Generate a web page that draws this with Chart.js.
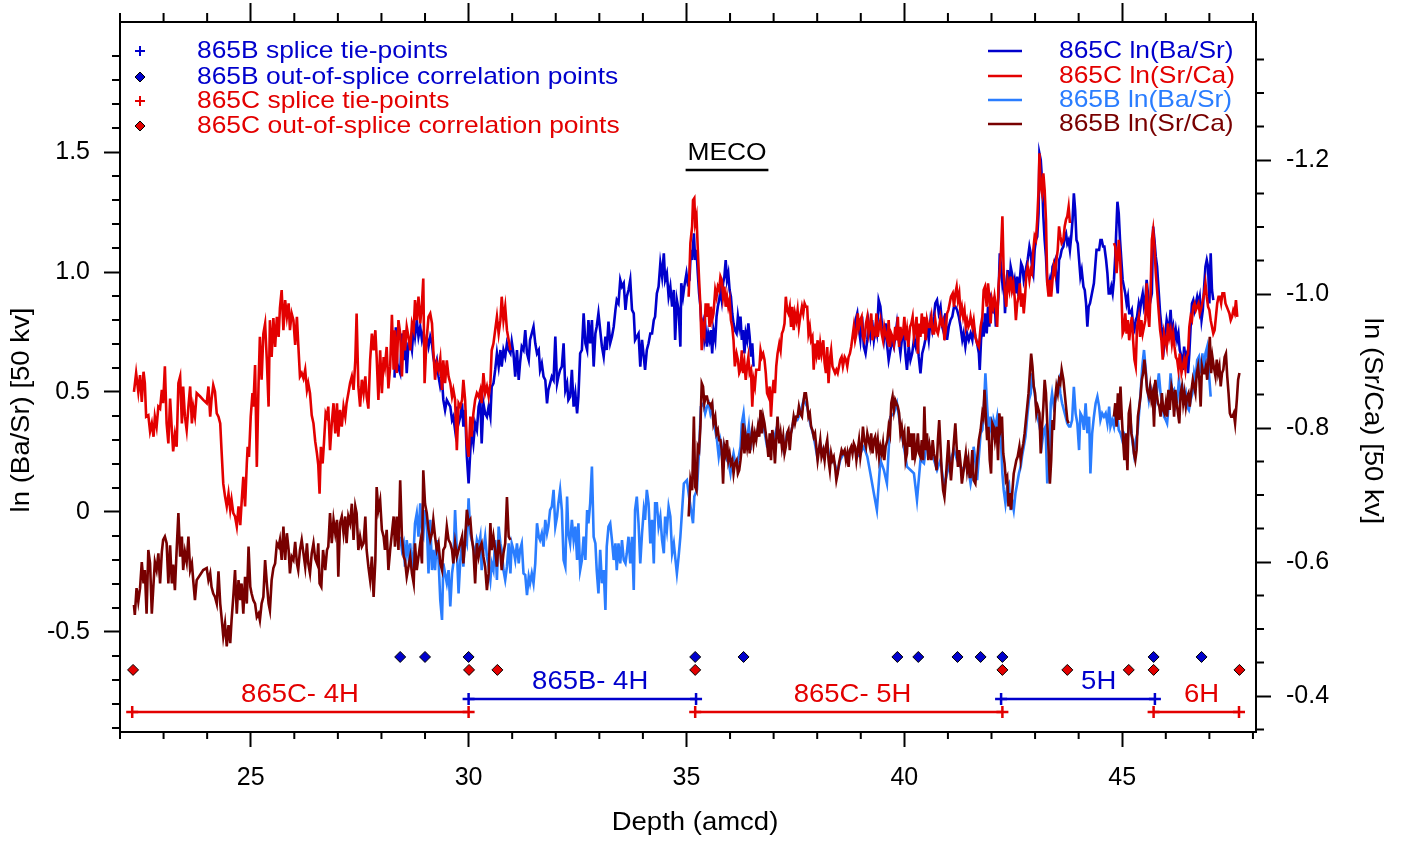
<!DOCTYPE html>
<html>
<head>
<meta charset="utf-8">
<script src="https://cdn.jsdelivr.net/npm/chart.js@4.4.1/dist/chart.umd.min.js"></script>
<style>
  body { margin: 0; background: #fff; }
  #wrap { width: 1407px; height: 845px; }
</style>
</head>
<body>
<div id="wrap"><canvas id="myChart" width="1407" height="845"></canvas></div>
<script>
const depthTicks = [25, 30, 35, 40, 45]
const baSrTicks = [-0.5, 0, 0.5, 1.0, 1.5]
const srCaTicks = [-1.2, -1.0, -0.8, -0.6, -0.4]

const seriesLabels = ['865C ln(Ba/Sr)', '865C ln(Sr/Ca)', '865B ln(Ba/Sr)', '865B ln(Sr/Ca)']
const markerLabels = ['865B splice tie-points', '865B out-of-splice correlation points', '865C splice tie-points', '865C out-of-splice correlation points']
const axisTitles = ['Depth (amcd)', 'ln (Ba/Sr) [50 kv]', 'ln (Sr/Ca) [50 kv]']

// [depth (amcd), value] -- null marks a gap in the record
const srCa865C = [
[22.32,-0.854],[22.37,-0.882],[22.42,-0.854],[22.46,-0.879],[22.50,-0.839],[22.54,-0.884],[22.57,-0.867],[22.60,-0.817],[22.65,-0.819],[22.69,-0.795],[22.73,-0.807],[22.77,-0.787],[22.80,-0.817],[22.84,-0.802],[22.88,-0.832],[22.92,-0.829],[22.96,-0.857],[22.99,-0.837],[23.03,-0.892],[23.07,-0.807],[23.11,-0.777],[23.15,-0.844],[23.19,-0.797],[23.22,-0.765],[23.26,-0.790],[23.30,-0.772],[23.34,-0.867],[23.38,-0.877],[23.42,-0.807],[23.45,-0.862],[23.49,-0.817],[23.53,-0.797],[23.57,-0.832],[23.61,-0.862],[23.65,-0.807],[23.68,-0.832],[23.72,-0.817],[23.76,-0.852],[23.84,-0.847],[23.91,-0.842],[23.99,-0.837],[24.03,-0.862],[24.07,-0.817],[24.10,-0.842],[24.14,-0.864],[24.18,-0.854],[24.22,-0.822],[24.26,-0.817],[24.30,-0.807],[24.33,-0.767],[24.37,-0.717],[24.41,-0.698],[24.45,-0.683],[24.49,-0.702],[24.53,-0.678],[24.56,-0.693],[24.60,-0.673],[24.64,-0.668],[24.68,-0.653],[24.72,-0.683],[24.76,-0.655],[24.79,-0.688],[24.83,-0.727],[24.87,-0.683],[24.91,-0.747],[24.93,-0.772],[24.96,-0.757],[25.00,-0.817],[25.04,-0.852],[25.06,-0.832],[25.10,-0.894],[25.14,-0.742],[25.18,-0.867],[25.21,-0.936],[25.25,-0.872],[25.29,-0.941],[25.33,-0.956],[25.37,-0.901],[25.41,-0.832],[25.44,-0.961],[25.48,-0.906],[25.52,-0.964],[25.56,-0.921],[25.60,-0.966],[25.64,-0.936],[25.67,-0.979],[25.71,-1.006],[25.75,-0.946],[25.79,-0.991],[25.83,-0.966],[25.87,-0.986],[25.90,-0.946],[25.94,-0.971],[25.98,-0.961],[26.02,-0.924],[26.06,-0.966],[26.09,-0.926],[26.13,-0.877],[26.17,-0.882],[26.21,-0.874],[26.25,-0.887],[26.29,-0.857],[26.32,-0.867],[26.36,-0.852],[26.40,-0.819],[26.44,-0.807],[26.48,-0.780],[26.52,-0.762],[26.55,-0.745],[26.58,-0.702],[26.61,-0.772],[26.65,-0.747],[26.68,-0.777],[26.72,-0.822],[26.75,-0.817],[26.78,-0.832],[26.82,-0.767],[26.86,-0.807],[26.90,-0.837],[26.94,-0.792],[26.98,-0.837],[27.01,-0.787],[27.05,-0.827],[27.09,-0.802],[27.13,-0.832],[27.17,-0.817],[27.20,-0.837],[27.24,-0.852],[27.28,-0.867],[27.32,-0.877],[27.36,-0.857],[27.40,-0.901],[27.43,-0.971],[27.47,-0.862],[27.51,-0.832],[27.55,-0.872],[27.59,-0.852],[27.63,-0.877],[27.66,-0.847],[27.70,-0.829],[27.74,-0.901],[27.78,-0.941],[27.82,-0.916],[27.86,-0.946],[27.89,-0.906],[27.93,-0.842],[27.97,-0.916],[28.01,-0.852],[28.05,-0.906],[28.08,-0.892],[28.12,-0.921],[28.16,-0.859],[28.20,-0.892],[28.24,-0.969],[28.28,-0.887],[28.31,-0.946],[28.35,-0.882],[28.39,-0.961],
[28.43,-0.941],[28.47,-0.877],[28.51,-0.946],[28.54,-0.916],[28.58,-0.951],[28.62,-0.936],[28.66,-0.916],[28.70,-0.956],[28.74,-0.946],[28.77,-0.991],[28.81,-0.961],[28.85,-0.996],[28.89,-0.956],[28.93,-0.986],[28.96,-1.023],[28.99,-0.867],[29.03,-0.926],[29.08,-0.966],[29.12,-0.971],[29.16,-0.956],[29.19,-0.916],[29.23,-0.872],[29.27,-0.897],[29.31,-0.887],[29.35,-0.904],[29.39,-0.857],[29.42,-0.901],[29.46,-0.867],[29.50,-0.901],[29.54,-0.877],[29.58,-0.867],[29.62,-0.847],[29.65,-0.857],[29.69,-0.842],[29.73,-0.767],[29.77,-0.837],[29.81,-0.832],[29.85,-0.842],[29.88,-0.872],[29.92,-0.842],[29.96,-0.777],[30.00,-0.757],[30.04,-0.817],[30.07,-0.787],[30.11,-0.822],[30.15,-0.842],[30.19,-0.852],[30.23,-0.847],[30.27,-0.857],[30.30,-0.837],[30.34,-0.882],[30.38,-0.852],[30.42,-0.862],[30.46,-0.847],[30.50,-0.867],[30.53,-0.916],[30.57,-0.926],[30.61,-0.946],[30.65,-0.966],[30.69,-0.941],[30.73,-0.961],[30.76,-0.996],[30.80,-0.961],[30.84,-0.981],[30.88,-0.946],[30.92,-0.931],[30.96,-0.916],[33.00,null],
[35.05,-0.996],[35.09,-1.076],[35.13,-1.101],[35.15,-1.140],[35.18,-1.143],[35.20,-1.106],[35.23,-1.116],[35.26,-1.066],[35.29,-1.021],[35.32,-0.981],[35.35,-0.916],[35.38,-0.951],[35.41,-0.941],[35.44,-0.986],[35.47,-0.966],[35.50,-0.986],[35.53,-0.951],[35.56,-0.981],[35.59,-0.961],[35.62,-0.971],[35.66,-1.006],[35.69,-0.996],[35.72,-1.011],[35.75,-1.006],[35.78,-1.026],[35.81,-1.021],[35.84,-0.996],[35.87,-1.011],[35.90,-0.981],[35.93,-0.996],[35.96,-0.981],[35.99,-0.991],[36.02,-0.961],[36.05,-0.951],[36.08,-0.931],[36.11,-0.892],[36.15,-0.911],[36.18,-0.902],[36.21,-0.882],[36.24,-0.887],[36.27,-0.916],[36.30,-0.882],[36.33,-0.897],[36.36,-0.872],[36.39,-0.892],[36.42,-0.906],[36.45,-0.882],[36.48,-0.887],[36.51,-0.832],[36.54,-0.872],[36.57,-0.862],[36.60,-0.887],[36.64,-0.887],[36.67,-0.887],[36.70,-0.916],[36.73,-0.906],[36.76,-0.911],[36.79,-0.902],[36.82,-0.882],[36.85,-0.852],[36.88,-0.847],[36.91,-0.862],[36.94,-0.817],[36.97,-0.852],[37.00,-0.872],[37.03,-0.852],[37.06,-0.892],[37.09,-0.911],[37.13,-0.926],[37.16,-0.916],[37.19,-0.941],[37.22,-0.946],[37.25,-0.956],[37.28,-0.996],[37.31,-0.976],[37.34,-0.971],[37.37,-0.981],[37.40,-0.951],[37.43,-0.981],[37.46,-0.946],[37.49,-0.971],[37.52,-0.961],[37.55,-0.976],[37.58,-0.951],[37.61,-0.966],[37.65,-0.981],[37.68,-0.971],[37.71,-0.986],[37.74,-0.981],[37.77,-0.981],[37.80,-0.941],[37.83,-0.951],[37.86,-0.931],[37.89,-0.936],[37.92,-0.887],[37.95,-0.926],[37.98,-0.911],[38.01,-0.931],[38.04,-0.902],[38.07,-0.926],[38.10,-0.911],[38.14,-0.931],[38.17,-0.897],[38.20,-0.882],[38.23,-0.921],[38.26,-0.867],[38.29,-0.902],[38.32,-0.916],[38.35,-0.892],[38.38,-0.887],[38.41,-0.882],[38.44,-0.887],[38.47,-0.882],[38.50,-0.892],[38.53,-0.902],[38.56,-0.906],[38.59,-0.892],[38.63,-0.906],[38.66,-0.902],[38.69,-0.892],[38.72,-0.906],[38.75,-0.911],[38.78,-0.921],[38.81,-0.936],[38.84,-0.951],[38.87,-0.931],[38.90,-0.941],[38.93,-0.971],[38.96,-0.951],[38.99,-0.961],[39.02,-0.966],[39.05,-0.936],[39.08,-0.931],[39.12,-0.956],[39.15,-0.966],[39.18,-0.941],[39.21,-0.951],[39.24,-0.971],[39.27,-0.931],[39.30,-0.946],[39.33,-0.941],[39.36,-0.971],[39.39,-0.936],[39.42,-0.951],[39.45,-0.961],[39.48,-0.941],[39.51,-0.931],[39.54,-0.951],[39.57,-0.941],[39.61,-0.931],[39.64,-0.961],[39.67,-0.921],[39.70,-0.941],[39.73,-0.936],[39.76,-0.926],[39.79,-0.951],[39.82,-0.931],[39.85,-0.966],[39.88,-0.921],[39.91,-0.951],[39.94,-0.936],[39.97,-0.941],[40.00,-0.966],[40.03,-0.931],[40.06,-0.946],[40.09,-0.921],[40.13,-0.951],[40.16,-0.956],[40.19,-0.966],[40.22,-0.936],[40.25,-0.946],[40.28,-0.966],[40.31,-0.911],[40.34,-0.956],[40.37,-0.936],[40.40,-0.971],[40.43,-0.941],[40.46,-0.966],[40.49,-0.931],[40.52,-0.961],[40.55,-0.951],[40.58,-0.951],[40.62,-0.966],[40.65,-0.941],[40.68,-0.941],[40.71,-0.961],[40.74,-0.946],[40.77,-0.941],[40.80,-0.951],[40.83,-0.966],[40.86,-0.956],[40.89,-0.961],[40.92,-0.931],[40.95,-0.946],[40.98,-0.971],[41.01,-0.976],[41.04,-0.986],[41.07,-0.996],[41.11,-1.001],[41.14,-0.981],[41.17,-1.001],[41.20,-1.011],[41.23,-0.991],[41.26,-1.001],[41.29,-0.971],[41.32,-0.981],[41.35,-0.966],[41.38,-0.976],[41.41,-0.951],[41.44,-0.961],[41.47,-0.951],[41.50,-0.956],
[41.52,-0.966],[41.56,-0.951],[41.59,-0.961],[41.63,-0.936],[41.67,-0.926],[41.71,-0.921],[41.75,-0.951],[41.79,-0.966],[41.82,-1.006],[41.85,-1.011],[41.89,-0.981],[41.92,-1.016],[41.95,-0.996],[41.98,-0.956],[42.01,-0.991],[42.04,-0.981],[42.07,-0.996],[42.10,-0.981],[42.13,-0.951],[42.16,-1.011],[42.19,-1.036],[42.22,-1.066],[42.25,-1.116],[42.28,-1.031],[42.31,-1.001],[42.34,-0.981],[42.37,-1.021],[42.41,-1.006],[42.44,-1.026],[42.47,-1.006],[42.50,-1.016],[42.53,-0.996],[42.56,-0.961],[42.59,-0.986],[42.62,-0.996],[42.65,-1.016],[42.68,-0.981],[42.71,-1.001],[42.74,-0.971],[42.77,-0.996],[42.80,-1.031],[42.83,-1.041],[42.87,-1.021],[42.90,-1.036],[42.93,-1.031],[42.96,-1.066],[42.99,-1.086],[43.02,-1.081],[43.05,-1.111],[43.08,-1.155],[43.10,-1.210],[43.13,-1.160],[43.16,-1.150],[43.19,-1.180],[43.22,-1.155],[43.25,-1.111],[43.28,-1.016],[43.31,-0.996],[43.34,-1.021],[43.37,-0.996],[43.40,-1.021],[43.43,-1.041],[43.46,-1.031],[43.49,-1.051],[43.52,-1.066],[43.55,-1.101],[43.58,-1.086],[43.61,-1.076],[43.65,-1.081],[43.68,-1.101],[43.71,-1.111],[43.74,-1.116],[43.77,-1.130],[43.80,-1.106],[44.30,null],
[44.81,-1.076],[44.84,-1.071],[44.87,-1.031],[44.90,-1.056],[44.92,-1.081],[44.95,-1.056],[44.98,-1.006],[45.01,-0.941],[45.04,-0.946],[45.07,-0.971],[45.10,-0.941],[45.13,-0.961],[45.16,-0.931],[45.19,-0.951],[45.22,-0.966],[45.25,-0.931],[45.28,-0.902],[45.31,-0.892],[45.34,-0.951],[45.38,-0.966],[45.41,-0.936],[45.44,-0.961],[45.47,-0.941],[45.50,-0.951],[45.53,-0.961],[45.56,-1.016],[45.59,-0.971],[45.62,-0.951],[45.65,-1.001],[45.68,-1.081],[45.71,-1.096],[45.74,-1.071],[45.77,-1.031],[45.80,-1.006],[45.84,-0.971],[45.87,-0.946],[45.90,-0.931],[45.93,-0.902],[45.96,-0.941],[45.99,-0.931],[46.02,-0.921],[46.05,-0.956],[46.08,-0.936],[46.11,-0.946],[46.14,-0.926],[46.17,-0.941],[46.20,-0.921],[46.23,-0.906],[46.26,-0.902],[46.29,-0.887],[46.32,-0.911],[46.36,-0.882],[46.39,-0.892],[46.42,-0.902],[46.45,-0.887],[46.48,-0.906],[46.51,-0.911],[46.54,-0.951],[46.57,-0.966],[46.60,-0.961],[46.63,-0.981],[46.66,-0.986],[46.69,-0.976],[46.72,-0.981],[46.75,-0.986],[46.78,-0.971],[46.82,-0.981],[46.85,-0.991],[46.88,-1.001],[46.91,-1.016],[46.94,-0.996],[46.97,-0.981],[47.00,-0.976],[47.03,-0.961],[47.06,-0.951],[47.09,-0.941],[47.12,-0.946],[47.15,-0.966],[47.18,-0.986],[47.21,-0.996],[47.24,-0.996],[47.27,-0.986],[47.30,-1.001],[47.34,-1.001],[47.37,-0.986],[47.40,-0.981],[47.43,-0.976],[47.46,-0.971],[47.49,-0.961],[47.52,-0.966],[47.55,-0.976],[47.58,-0.971],[47.61,-0.991],[47.64,-0.966]
]

const baSr865C = [
[28.30,0.56],[28.33,0.77],[28.36,0.62],[28.39,0.60],
[28.43,0.578],[28.47,0.744],[28.51,0.633],[28.54,0.758],[28.58,0.578],[28.62,0.703],[28.66,0.717],[28.70,0.675],[28.74,0.772],[28.77,0.731],[28.81,0.800],[28.85,0.731],[28.89,0.772],[28.93,0.717],[28.96,0.744],[29.00,0.689],[29.04,0.731],[29.08,0.689],[29.12,0.731],[29.16,0.703],[29.19,0.647],[29.23,0.606],[29.27,0.633],[29.31,0.564],[29.35,0.522],[29.39,0.550],[29.42,0.467],[29.46,0.425],[29.50,0.467],[29.54,0.453],[29.58,0.439],[29.62,0.383],[29.65,0.397],[29.69,0.342],[29.73,0.439],[29.77,0.369],[29.81,0.397],[29.85,0.453],[29.88,0.356],[29.92,0.425],[29.96,0.231],[30.00,0.119],[30.04,0.258],[30.07,0.342],[30.11,0.286],[30.15,0.369],[30.19,0.342],[30.23,0.439],[30.27,0.467],[30.30,0.286],[30.34,0.453],[30.38,0.411],[30.42,0.397],[30.46,0.439],[30.50,0.397],[30.53,0.522],[30.57,0.536],[30.61,0.592],[30.65,0.661],[30.69,0.606],[30.73,0.675],[30.76,0.606],[30.80,0.675],[30.84,0.647],[30.88,0.703],[30.92,0.675],[30.96,0.661],[30.99,0.710],[31.03,0.661],[31.07,0.564],[31.11,0.675],[31.15,0.550],[31.18,0.619],[31.22,0.689],[31.26,0.675],[31.30,0.758],[31.34,0.661],[31.38,0.633],[31.41,0.717],[31.45,0.744],[31.49,0.772],[31.53,0.703],[31.57,0.661],[31.61,0.675],[31.64,0.592],[31.68,0.619],[31.72,0.564],[31.76,0.550],[31.80,0.453],[31.83,0.508],[31.87,0.536],[31.91,0.564],[31.95,0.550],[31.99,0.731],[32.03,0.536],[32.06,0.564],[32.10,0.592],[32.14,0.606],[32.18,0.703],[32.22,0.508],[32.26,0.536],[32.29,0.467],[32.33,0.481],[32.37,0.592],[32.41,0.439],[32.45,0.494],[32.49,0.411],[32.52,0.481],[32.56,0.661],[32.60,0.675],[32.64,0.828],[32.68,0.703],[32.72,0.675],[32.75,0.800],[32.79,0.703],[32.83,0.800],[32.87,0.606],[32.91,0.744],[32.94,0.772],[32.98,0.828],[33.02,0.758],[33.06,0.689],[33.10,0.647],[33.14,0.731],[33.17,0.675],[33.21,0.793],[33.25,0.703],[33.29,0.731],[33.33,0.772],[33.37,0.842],[33.40,0.883],[33.44,0.869],[33.48,0.967],[33.52,0.939],[33.56,0.953],[33.60,0.842],[33.63,0.897],[33.67,0.925],[33.71,0.967],[33.75,0.842],[33.79,0.828],[33.82,0.717],[33.86,0.731],[33.90,0.744],[33.94,0.606],[33.98,0.717],[34.02,0.647],[34.05,0.592],[34.09,0.675],[34.13,0.703],[34.17,0.744],[34.21,0.744],[34.25,0.800],[34.28,0.814],[34.32,0.911],[34.36,0.939],[34.40,1.036],[34.44,0.981],[34.48,1.078],[34.51,0.967],[34.55,0.994],[34.59,0.897],[34.63,0.939],[34.67,0.856],[34.71,0.925],[34.74,0.717],[34.78,0.883],[34.82,0.842],
[34.86,0.689],[34.88,0.953],[34.92,0.897],[34.95,0.939],[35.00,0.994],[35.03,0.953],[35.07,0.967],[35.10,1.092],[35.13,1.050],[35.17,1.161],[35.20,1.050],[35.23,1.092],[35.26,0.994],[35.29,0.911],[35.32,0.856],[35.35,0.758],[35.38,0.786],[35.41,0.717],[35.44,0.758],[35.47,0.689],[35.50,0.744],[35.53,0.717],[35.56,0.758],[35.59,0.661],[35.62,0.758],[35.66,0.717],[35.69,0.814],[35.72,0.856],[35.75,0.883],[35.78,0.925],[35.81,0.883],[35.84,0.953],[35.87,0.981],[35.90,1.050],[35.93,0.967],[35.96,0.994],[35.99,0.925],[36.02,0.897],[36.05,0.828],[36.08,0.786],[36.11,0.758],[36.15,0.744],[36.18,0.814],[36.21,0.772],[36.24,0.814],[36.27,0.717],[36.30,0.758],[36.33,0.661],[36.36,0.744],[36.39,0.717],[36.42,0.786],[36.45,0.731],[36.48,0.647],[36.51,0.703],[36.54,0.606],[37.70,null],
[38.84,0.731],[38.88,0.800],[38.92,0.828],[38.95,0.772],[38.99,0.717],[39.03,0.814],[39.07,0.689],[39.11,0.661],[39.15,0.717],[39.18,0.786],[39.22,0.731],[39.26,0.800],[39.30,0.717],[39.34,0.772],[39.37,0.744],[39.41,0.883],[39.45,0.856],[39.49,0.772],[39.53,0.717],[39.57,0.786],[39.60,0.703],[39.64,0.633],[39.68,0.675],[39.72,0.717],[39.76,0.689],[39.80,0.744],[39.83,0.786],[39.87,0.717],[39.91,0.661],[39.95,0.731],[39.99,0.744],[40.03,0.647],[40.06,0.592],[40.10,0.689],[40.14,0.633],[40.18,0.661],[40.22,0.717],[40.26,0.689],[40.29,0.744],[40.33,0.647],[40.37,0.578],[40.41,0.661],[40.45,0.689],[40.48,0.717],[40.52,0.772],[40.56,0.717],[40.60,0.800],[40.64,0.758],[40.68,0.814],[40.71,0.869],[40.75,0.883],[40.79,0.828],[40.83,0.856],[40.87,0.772],[40.91,0.744],[40.94,0.828],[40.98,0.717],[41.02,0.772],[41.06,0.800],[41.10,0.814],[41.14,0.856],[41.17,0.856],[41.21,0.842],[41.25,0.814],[41.29,0.772],[41.33,0.717],[41.36,0.744],[41.40,0.689],[41.44,0.744],[41.48,0.717],
[41.52,0.744],[41.56,0.717],[41.59,0.772],[41.63,0.731],[41.67,0.703],[41.71,0.661],[41.73,0.592],[41.76,0.717],[41.79,0.772],[41.82,0.731],[41.85,0.828],[41.89,0.744],[41.92,0.856],[41.95,0.772],[41.98,0.897],[42.01,0.883],[42.04,0.828],[42.07,0.897],[42.10,0.772],[42.13,0.828],[42.16,0.897],[42.19,1.078],[42.22,1.022],[42.25,0.953],[42.28,0.994],[42.31,0.828],[42.34,0.939],[42.37,1.008],[42.41,0.925],[42.44,1.022],[42.47,0.994],[42.50,0.939],[42.53,0.967],[42.56,0.911],[42.59,0.981],[42.62,0.897],[42.65,0.967],[42.68,1.036],[42.71,1.022],[42.74,0.967],[42.77,0.994],[42.80,1.022],[42.83,1.050],[42.87,1.106],[42.90,1.078],[42.93,1.022],[42.96,0.994],[42.99,1.092],[43.02,1.133],[43.05,1.147],[43.08,1.244],[43.10,1.494],[43.13,1.467],[43.16,1.383],[43.19,1.231],[43.22,1.133],[43.25,1.064],[43.28,0.953],[43.31,0.939],[43.34,0.967],[43.37,0.925],[43.40,1.022],[43.43,1.036],[43.46,1.050],[43.49,0.967],[43.52,0.911],[43.55,1.050],[43.58,1.064],[43.61,1.092],[43.65,1.106],[43.68,1.147],[43.71,1.161],[43.74,1.119],[43.77,1.133],[43.80,1.092],[43.83,1.147],[43.86,1.217],[43.89,1.328],[43.92,1.258],[43.95,1.133],[43.98,1.119],[44.01,1.050],[44.04,0.981],[44.07,1.008],[44.11,0.939],[44.14,0.925],[44.17,0.869],[44.20,0.772],[44.23,0.856],[44.26,0.869],[44.29,0.897],[44.32,0.925],[44.35,0.953],[44.38,1.022],[44.41,1.092],[44.44,1.092],[44.47,1.092],[44.50,1.133],[44.53,1.133],[44.56,1.106],[44.59,1.106],[44.63,1.050],[44.66,0.994],[44.69,0.911],[44.72,0.911],[44.75,0.939],[44.78,0.911],[44.81,0.967],[44.84,1.064],[44.87,1.203],[44.89,1.293],[44.92,1.244],[44.95,1.133],[44.98,1.050],[45.01,0.967],[45.04,0.939],[45.07,0.911],[45.10,0.869],[45.13,0.897],[45.16,0.828],[45.19,0.828],[45.22,0.842],[45.25,0.772],[45.28,0.758],[45.31,0.800],[45.34,0.814],[45.38,0.869],[45.41,0.842],[45.44,0.883],[45.47,0.911],[45.50,0.856],[45.53,0.883],[45.56,0.967],[45.59,0.911],[45.62,0.856],[45.65,0.883],[45.68,0.911],[45.71,1.189],[45.74,1.133],[45.77,1.064],[45.80,1.022],[45.84,0.911],[45.87,0.828],[45.90,0.772],[45.93,0.731],[45.96,0.689],[45.99,0.744],[46.02,0.800],[46.05,0.772],[46.08,0.772],[46.11,0.842],[46.14,0.744],[46.17,0.772],[46.20,0.717],[46.23,0.758],[46.26,0.717],[46.29,0.744],[46.32,0.675],[46.36,0.647],[46.39,0.592],[46.42,0.689],[46.45,0.647],[46.48,0.661],[46.51,0.578],[46.54,0.661],[46.57,0.772],[46.60,0.869],[46.63,0.883],[46.66,0.842],[46.69,0.869],[46.72,0.897],[46.75,0.869],[46.78,0.897],[46.82,0.800],[46.85,0.842],[46.88,0.939],[46.91,1.022],[46.94,1.050],[46.97,1.022],[47.00,0.869],[47.03,1.078],[47.06,0.925],[47.09,0.883]
]

const srCa865B = [
[22.32,-0.536],[22.34,-0.521],[22.38,-0.561],[22.42,-0.541],[22.46,-0.561],[22.50,-0.600],[22.54,-0.568],[22.57,-0.588],[22.61,-0.523],[22.65,-0.618],[22.69,-0.598],[22.73,-0.523],[22.77,-0.568],[22.80,-0.600],[22.84,-0.588],[22.88,-0.613],[22.92,-0.568],[22.96,-0.615],[22.99,-0.633],[23.03,-0.638],[23.07,-0.628],[23.11,-0.568],[23.15,-0.625],[23.19,-0.568],[23.22,-0.596],[23.26,-0.558],[23.30,-0.618],[23.34,-0.673],[23.38,-0.608],[23.42,-0.638],[23.45,-0.588],[23.49,-0.615],[23.53,-0.600],[23.57,-0.638],[23.61,-0.588],[23.65,-0.598],[23.68,-0.573],[23.72,-0.543],[23.76,-0.573],[23.84,-0.581],[23.91,-0.588],[23.99,-0.591],[24.03,-0.573],[24.07,-0.583],[24.10,-0.563],[24.14,-0.553],[24.18,-0.548],[24.22,-0.538],[24.26,-0.586],[24.30,-0.538],[24.33,-0.518],[24.37,-0.489],[24.41,-0.508],[24.45,-0.474],[24.49,-0.506],[24.53,-0.479],[24.56,-0.513],[24.60,-0.548],[24.64,-0.588],[24.68,-0.523],[24.72,-0.573],[24.76,-0.543],[24.79,-0.568],[24.83,-0.523],[24.87,-0.578],[24.91,-0.538],[24.95,-0.623],[24.99,-0.563],[25.02,-0.553],[25.06,-0.543],[25.10,-0.538],[25.14,-0.518],[25.18,-0.523],[25.21,-0.513],[25.25,-0.538],[25.29,-0.548],[25.33,-0.603],[25.37,-0.568],[25.41,-0.538],[25.44,-0.528],[25.48,-0.573],[25.52,-0.591],[25.56,-0.598],[25.60,-0.628],[25.64,-0.623],[25.67,-0.633],[25.71,-0.603],[25.75,-0.653],[25.79,-0.603],[25.83,-0.643],[25.87,-0.618],[25.90,-0.583],[25.94,-0.608],[25.98,-0.603],[26.02,-0.630],[26.06,-0.598],[26.09,-0.588],[26.13,-0.618],[26.17,-0.633],[26.21,-0.613],[26.25,-0.593],[26.29,-0.628],[26.32,-0.598],[26.36,-0.583],[26.40,-0.613],[26.44,-0.628],[26.48,-0.605],[26.52,-0.598],[26.55,-0.628],[26.58,-0.568],[26.62,-0.563],[26.66,-0.618],[26.71,-0.588],[26.75,-0.618],[26.78,-0.623],[26.82,-0.673],[26.86,-0.628],[26.90,-0.663],[26.94,-0.643],[26.98,-0.663],[27.01,-0.578],[27.05,-0.658],[27.09,-0.668],[27.13,-0.643],[27.17,-0.668],[27.20,-0.628],[27.24,-0.668],[27.28,-0.658],[27.32,-0.687],[27.36,-0.633],[27.40,-0.683],[27.43,-0.673],[27.47,-0.618],[27.51,-0.638],[27.55,-0.623],[27.59,-0.628],[27.63,-0.668],[27.66,-0.618],[27.70,-0.593],[27.74,-0.573],[27.78,-0.608],[27.82,-0.548],[27.86,-0.603],[27.89,-0.712],[27.93,-0.678],[27.97,-0.692],[28.01,-0.648],[28.05,-0.638],[28.08,-0.618],[28.12,-0.648],[28.16,-0.588],[28.20,-0.618],[28.24,-0.643],[28.28,-0.668],[28.31,-0.623],[28.35,-0.668],[28.39,-0.618],
[28.43,-0.722],[28.47,-0.638],[28.51,-0.608],[28.54,-0.603],[28.58,-0.578],[28.62,-0.593],[28.66,-0.608],[28.70,-0.583],[28.74,-0.568],[28.77,-0.628],[28.81,-0.588],[28.85,-0.608],[28.89,-0.628],[28.93,-0.598],[28.96,-0.737],[29.00,-0.687],[29.04,-0.673],[29.08,-0.648],[29.12,-0.633],[29.16,-0.643],[29.19,-0.663],[29.23,-0.638],[29.27,-0.618],[29.31,-0.628],[29.35,-0.598],[29.39,-0.588],[29.42,-0.618],[29.46,-0.623],[29.50,-0.653],[29.54,-0.633],[29.58,-0.628],[29.62,-0.618],[29.65,-0.598],[29.69,-0.628],[29.73,-0.608],[29.77,-0.618],[29.81,-0.628],[29.85,-0.638],[29.88,-0.598],[29.92,-0.633],[29.96,-0.678],[30.00,-0.658],[30.04,-0.663],[30.07,-0.638],[30.11,-0.618],[30.15,-0.568],[30.19,-0.628],[30.23,-0.608],[30.27,-0.623],[30.30,-0.628],[30.34,-0.608],[30.38,-0.593],[30.42,-0.558],[30.46,-0.583],[30.50,-0.658],[30.53,-0.618],[30.57,-0.638],[30.61,-0.618],[30.65,-0.593],[30.69,-0.633],[30.73,-0.613],[30.76,-0.588],[30.80,-0.613],[30.84,-0.628],[30.88,-0.697],[30.92,-0.638],[30.96,-0.633],[33.00,null],
[35.05,-0.668],[35.09,-0.722],[35.13,-0.707],[35.17,-0.817],[35.20,-0.712],[35.23,-0.707],[35.26,-0.772],[35.29,-0.767],[35.32,-0.802],[35.35,-0.867],[35.38,-0.862],[35.41,-0.837],[35.44,-0.847],[35.47,-0.847],[35.50,-0.837],[35.53,-0.837],[35.56,-0.832],[35.59,-0.837],[35.62,-0.807],[35.66,-0.817],[35.69,-0.792],[35.72,-0.797],[35.75,-0.782],[35.78,-0.782],[35.81,-0.767],[35.84,-0.717],[35.87,-0.772],[35.90,-0.762],[35.93,-0.782],[35.96,-0.752],[35.99,-0.762],[36.02,-0.747],[36.05,-0.752],[36.08,-0.732],[36.11,-0.747],[36.15,-0.752],[36.18,-0.732],[36.21,-0.737],[36.24,-0.752],[36.27,-0.772],[36.30,-0.807],[36.33,-0.762],[36.36,-0.787],[36.39,-0.772],[36.42,-0.792],[36.45,-0.762],[36.48,-0.782],[36.51,-0.797],[36.54,-0.777],[36.57,-0.792],[36.60,-0.782],[36.64,-0.802],[36.67,-0.787],[36.70,-0.827],[36.73,-0.792],[36.76,-0.817],[36.79,-0.807],[36.82,-0.792],[36.85,-0.777],[36.88,-0.757],[36.91,-0.792],[36.94,-0.752],[36.97,-0.797],[37.00,-0.782],[37.03,-0.747],[37.06,-0.782],[37.09,-0.817],[37.13,-0.777],[37.16,-0.792],[37.19,-0.772],[37.22,-0.787],[37.25,-0.762],[37.28,-0.772],[37.31,-0.792],[37.34,-0.797],[37.37,-0.767],[37.40,-0.792],[37.43,-0.802],[37.46,-0.817],[37.49,-0.807],[37.52,-0.817],[37.55,-0.817],[37.58,-0.832],[37.61,-0.822],[37.65,-0.817],[37.68,-0.837],[37.71,-0.852],[37.74,-0.852],[37.77,-0.837],[37.80,-0.817],[37.83,-0.822],[37.86,-0.802],[37.89,-0.797],[37.92,-0.787],[37.95,-0.792],[37.98,-0.772],[38.01,-0.752],[38.04,-0.767],[38.07,-0.782],[38.10,-0.757],[38.14,-0.767],[38.17,-0.752],[38.20,-0.772],[38.23,-0.782],[38.26,-0.752],[38.29,-0.737],[38.32,-0.762],[38.35,-0.752],[38.38,-0.757],[38.41,-0.742],[38.44,-0.722],[38.47,-0.732],[38.50,-0.747],[38.53,-0.757],[38.56,-0.767],[38.59,-0.762],[38.63,-0.767],[38.66,-0.752],[38.69,-0.762],[38.72,-0.742],[38.75,-0.767],[38.78,-0.772],[38.81,-0.762],[38.84,-0.777],[38.87,-0.772],[38.90,-0.752],[38.93,-0.767],[38.96,-0.782],[38.99,-0.757],[39.02,-0.772],[39.05,-0.802],[39.08,-0.782],[39.12,-0.772],[39.15,-0.792],[39.18,-0.782],[39.21,-0.772],[39.24,-0.792],[39.27,-0.762],[39.30,-0.782],[39.33,-0.787],[39.36,-0.767],[39.39,-0.782],[39.42,-0.757],[39.45,-0.772],[39.48,-0.762],[39.51,-0.777],[39.54,-0.752],[39.57,-0.772],[39.61,-0.782],[39.64,-0.802],[39.67,-0.792],[39.70,-0.837],[39.73,-0.847],[39.76,-0.827],[39.79,-0.842],[39.82,-0.837],[39.85,-0.832],[39.88,-0.822],[39.91,-0.792],[39.94,-0.802],[39.97,-0.782],[40.00,-0.792],[40.03,-0.752],[40.06,-0.762],[40.09,-0.802],[40.13,-0.772],[40.16,-0.792],[40.19,-0.752],[40.22,-0.792],[40.25,-0.757],[40.28,-0.767],[40.31,-0.792],[40.34,-0.762],[40.37,-0.757],[40.40,-0.782],[40.43,-0.752],[40.46,-0.832],[40.49,-0.767],[40.52,-0.792],[40.55,-0.752],[40.58,-0.772],[40.62,-0.752],[40.65,-0.782],[40.68,-0.762],[40.71,-0.752],[40.74,-0.737],[40.77,-0.782],[40.80,-0.812],[40.83,-0.772],[40.86,-0.732],[40.89,-0.707],[40.92,-0.697],[40.95,-0.722],[40.98,-0.752],[41.01,-0.782],[41.04,-0.747],[41.07,-0.722],[41.11,-0.757],[41.14,-0.782],[41.17,-0.807],[41.20,-0.772],[41.23,-0.742],[41.26,-0.767],[41.29,-0.747],[41.32,-0.717],[41.35,-0.732],[41.38,-0.747],[41.41,-0.762],[41.44,-0.737],[41.47,-0.752],[41.50,-0.727],
[41.52,-0.727],[41.56,-0.767],[41.59,-0.722],[41.63,-0.717],[41.67,-0.752],[41.71,-0.782],[41.75,-0.797],[41.79,-0.822],[41.81,-0.817],[41.84,-0.857],[41.87,-0.817],[41.90,-0.782],[41.93,-0.802],[41.96,-0.752],[41.99,-0.732],[42.02,-0.807],[42.05,-0.802],[42.08,-0.782],[42.12,-0.802],[42.15,-0.752],[42.18,-0.822],[42.21,-0.802],[42.24,-0.817],[42.27,-0.762],[42.30,-0.747],[42.33,-0.722],[42.36,-0.727],[42.39,-0.683],[42.42,-0.703],[42.45,-0.678],[42.48,-0.707],[42.51,-0.732],[42.54,-0.742],[42.57,-0.752],[42.60,-0.757],[42.64,-0.772],[42.67,-0.752],[42.70,-0.767],[42.73,-0.777],[42.76,-0.792],[42.79,-0.812],[42.82,-0.832],[42.85,-0.852],[42.88,-0.882],[42.91,-0.911],[42.94,-0.892],[42.97,-0.862],[43.00,-0.852],[43.03,-0.822],[43.06,-0.832],[43.10,-0.822],[43.13,-0.762],[43.16,-0.802],[43.19,-0.832],[43.22,-0.872],[43.25,-0.852],[43.28,-0.807],[43.31,-0.767],[43.34,-0.717],[43.37,-0.752],[43.40,-0.812],[43.43,-0.797],[43.46,-0.842],[43.49,-0.862],[43.52,-0.852],[43.55,-0.872],[43.58,-0.867],[43.61,-0.887],[43.65,-0.872],[43.68,-0.852],[43.71,-0.832],[43.74,-0.812],[43.77,-0.807],[44.30,null],
[44.81,-0.817],[44.84,-0.837],[44.87,-0.802],[44.90,-0.852],[44.93,-0.812],[44.96,-0.862],[44.99,-0.817],[45.02,-0.782],[45.05,-0.752],[45.08,-0.792],[45.12,-0.737],[45.15,-0.822],[45.18,-0.832],[45.21,-0.792],[45.24,-0.782],[45.27,-0.762],[45.30,-0.752],[45.33,-0.767],[45.36,-0.817],[45.39,-0.832],[45.42,-0.847],[45.45,-0.872],[45.48,-0.882],[45.51,-0.902],[45.54,-0.882],[45.57,-0.857],[45.61,-0.847],[45.64,-0.862],[45.67,-0.842],[45.70,-0.852],[45.73,-0.802],[45.76,-0.872],[45.79,-0.852],[45.82,-0.837],[45.85,-0.832],[45.88,-0.817],[45.91,-0.852],[45.94,-0.827],[45.97,-0.822],[46.00,-0.837],[46.03,-0.817],[46.06,-0.857],[46.09,-0.827],[46.13,-0.862],[46.16,-0.852],[46.19,-0.817],[46.22,-0.857],[46.25,-0.837],[46.28,-0.822],[46.31,-0.807],[46.34,-0.852],[46.37,-0.862],[46.40,-0.837],[46.43,-0.852],[46.46,-0.832],[46.49,-0.847],[46.52,-0.852],[46.55,-0.832],[46.58,-0.852],[46.62,-0.872],[46.65,-0.862],[46.68,-0.852],[46.71,-0.882],[46.74,-0.892],[46.77,-0.872],[46.80,-0.832],[46.83,-0.892],[46.86,-0.882],[46.89,-0.882],[46.92,-0.892],[46.95,-0.872],[46.98,-0.902],[47.01,-0.936],[47.04,-0.882],[47.07,-0.906],[47.10,-0.892],[47.14,-0.877],[47.17,-0.902],[47.20,-0.882],[47.23,-0.892],[47.26,-0.862],[47.29,-0.882],[47.32,-0.887],[47.35,-0.906],[47.38,-0.911],[47.41,-0.877],[47.44,-0.852],[47.47,-0.822],[47.50,-0.817],[47.53,-0.817],[47.56,-0.822],[47.59,-0.807],[47.63,-0.842],[47.66,-0.872],[47.69,-0.882]
]

const baSr865B = [
[28.43,-0.103],[28.47,-0.158],[28.51,-0.131],[28.54,-0.228],[28.58,-0.117],[28.62,-0.186],[28.66,-0.131],[28.70,-0.242],[28.74,-0.158],[28.77,-0.047],[28.81,-0.006],[28.85,-0.103],[28.89,0.036],[28.93,-0.089],[28.96,-0.103],[29.00,0.008],[29.04,-0.047],[29.08,-0.256],[29.12,-0.033],[29.16,-0.242],[29.19,-0.158],[29.23,-0.242],[29.27,-0.117],[29.31,-0.200],[29.35,-0.367],[29.39,-0.450],[29.42,-0.214],[29.46,-0.256],[29.50,-0.297],[29.54,-0.242],[29.58,-0.394],[29.62,-0.256],[29.65,-0.214],[29.69,0.008],[29.73,-0.158],[29.77,-0.339],[29.81,-0.200],[29.85,-0.131],[29.88,-0.228],[29.92,-0.103],[29.96,-0.131],[30.00,0.057],[30.04,-0.089],[30.07,-0.117],[30.11,-0.144],[30.15,-0.186],[30.19,-0.117],[30.23,-0.144],[30.27,-0.103],[30.30,-0.242],[30.34,-0.158],[30.38,-0.103],[30.42,-0.186],[30.46,-0.228],[30.50,-0.283],[30.53,-0.214],[30.57,-0.242],[30.61,-0.117],[30.65,-0.283],[30.69,-0.061],[30.73,-0.131],[30.76,-0.158],[30.80,-0.242],[30.84,-0.283],[30.88,-0.228],[30.92,-0.131],[30.96,-0.256],[30.99,-0.131],[31.03,-0.158],[31.07,-0.200],[31.11,-0.131],[31.15,-0.214],[31.18,-0.158],[31.22,-0.131],[31.26,-0.256],[31.30,-0.262],[31.34,-0.346],[31.38,-0.269],[31.41,-0.297],[31.45,-0.256],[31.49,-0.297],[31.53,-0.214],[31.57,-0.047],[31.61,-0.103],[31.64,-0.117],[31.68,-0.089],[31.72,-0.144],[31.76,-0.033],[31.80,-0.089],[31.83,-0.061],[31.87,0.008],[31.91,0.022],[31.95,0.092],[31.99,-0.061],[32.03,-0.019],[32.06,0.036],[32.10,0.092],[32.14,0.008],[32.18,-0.200],[32.22,-0.228],[32.26,0.064],[32.29,-0.089],[32.33,-0.131],[32.37,-0.033],[32.41,-0.117],[32.45,-0.061],[32.49,-0.200],[32.52,-0.047],[32.56,-0.242],[32.60,-0.200],[32.64,-0.103],[32.68,-0.200],[32.72,0.008],[32.75,-0.047],[32.79,0.036],[32.83,0.189],[32.87,-0.103],[32.91,-0.131],[32.94,-0.242],[32.98,-0.339],[33.02,-0.158],[33.06,-0.297],[33.10,-0.242],[33.14,-0.408],[33.17,-0.144],[33.21,-0.061],[33.25,-0.047],[33.29,-0.117],[33.33,-0.200],[33.37,-0.131],[33.40,-0.242],[33.44,-0.131],[33.48,-0.214],[33.52,-0.117],[33.56,-0.200],[33.60,-0.214],[33.63,-0.172],[33.67,-0.103],[33.71,-0.214],[33.75,-0.103],[33.79,-0.325],[33.82,0.008],[33.86,0.064],[33.90,-0.047],[33.94,-0.214],[33.98,-0.089],[34.02,0.008],[34.05,-0.033],[34.09,0.092],[34.13,0.036],[34.17,-0.131],[34.21,-0.033],[34.25,-0.214],[34.28,0.036],[34.32,0.036],[34.36,-0.061],[34.40,-0.019],[34.44,-0.117],[34.48,-0.172],[34.51,-0.019],[34.55,-0.075],[34.59,0.022],[34.63,-0.019],[34.67,-0.172],[34.71,-0.131],[34.74,-0.186],[34.78,-0.256],[34.82,-0.186],
[34.86,-0.103],[34.94,0.119],[35.01,0.133],[35.07,0.050],[35.15,-0.047],[35.18,0.064],[35.24,0.092],[35.29,0.258],[35.33,0.439],[35.39,0.453],[35.43,0.411],[35.47,0.439],[35.51,0.453],[35.55,0.411],[35.59,0.439],[35.62,0.369],[35.66,0.342],[35.70,0.300],[35.74,0.231],[35.78,0.286],[35.82,0.217],[35.85,0.272],[35.89,0.231],[35.93,0.217],[35.97,0.203],[36.01,0.161],[36.05,0.217],[36.08,0.244],[36.12,0.203],[36.16,0.189],[36.20,0.231],[36.24,0.272],[36.27,0.369],[36.31,0.411],[36.35,0.328],[36.39,0.300],[36.43,0.356],[36.47,0.258],[36.50,0.328],[36.54,0.300],[36.62,0.328],[36.70,0.397],[36.77,0.356],[36.85,0.272],[36.93,0.258],[37.00,0.300],[37.08,0.356],[37.16,0.314],[37.23,0.258],[37.31,0.328],[37.38,0.314],[37.46,0.383],[37.54,0.383],[37.61,0.411],[37.69,0.467],[37.77,0.439],[37.84,0.369],[37.92,0.314],[38.00,0.231],[38.07,0.286],[38.15,0.231],[38.23,0.286],[38.30,0.203],[38.38,0.217],[38.46,0.161],[38.53,0.217],[38.61,0.244],[38.69,0.231],[38.76,0.258],[38.84,0.272],[38.92,0.231],[38.99,0.244],[39.07,0.272],[39.15,0.231],[39.22,0.161],[39.30,0.078],[39.37,0.008],[39.45,0.217],[39.53,0.175],[39.60,0.119],[39.68,0.397],[39.76,0.411],[39.83,0.453],[39.91,0.356],[39.99,0.272],[40.06,0.189],[40.14,0.175],[40.22,0.161],[40.29,0.050],[40.37,0.217],[40.45,0.203],[40.52,0.300],[40.60,0.244],[40.68,0.217],[40.75,0.175],[40.83,0.217],[40.91,0.106],[40.98,0.161],[41.06,0.217],[41.14,0.258],[41.21,0.217],[41.29,0.189],[41.36,0.175],[41.44,0.217],
[41.52,0.119],[41.56,0.161],[41.59,0.272],[41.63,0.217],[41.67,0.133],[41.71,0.231],[41.75,0.328],[41.79,0.342],[41.82,0.411],[41.86,0.578],[41.90,0.439],[41.94,0.328],[41.98,0.397],[42.02,0.300],[42.05,0.383],[42.09,0.356],[42.13,0.397],[42.17,0.300],[42.21,0.328],[42.25,0.161],[42.28,0.092],[42.32,0.036],[42.36,0.106],[42.40,0.119],[42.44,0.008],[42.47,0.050],[42.51,0.008],[42.55,0.078],[42.59,0.119],[42.63,0.161],[42.67,0.189],[42.70,0.231],[42.74,0.272],[42.78,0.314],[42.82,0.397],[42.86,0.467],[42.90,0.494],[42.93,0.578],[42.97,0.522],[43.01,0.467],[43.05,0.397],[43.09,0.369],[43.13,0.328],[43.16,0.286],[43.20,0.342],[43.24,0.356],[43.28,0.119],[43.32,0.189],[43.36,0.453],[43.39,0.494],[43.43,0.439],[43.47,0.467],[43.51,0.522],[43.55,0.550],[43.58,0.494],[43.62,0.453],[43.66,0.425],[43.70,0.397],[43.74,0.369],[43.78,0.356],[43.81,0.356],[43.85,0.383],[43.89,0.522],[43.93,0.411],[43.97,0.369],[44.01,0.258],[44.04,0.411],[44.08,0.397],[44.12,0.342],[44.16,0.453],[44.20,0.328],[44.24,0.397],[44.27,0.161],[44.31,0.328],[44.35,0.397],[44.39,0.453],[44.43,0.481],[44.47,0.439],[44.50,0.383],[44.54,0.411],[44.58,0.397],[44.62,0.411],[44.66,0.369],[44.70,0.439],[44.73,0.356],[44.77,0.383],[44.81,0.356],[44.85,0.425],[44.89,0.397],[44.92,0.342],[44.96,0.328],[45.00,0.300],[45.04,0.328],[45.08,0.314],[45.12,0.300],[45.15,0.356],[45.19,0.383],[45.23,0.300],[45.27,0.244],[45.31,0.300],[45.35,0.328],[45.38,0.397],[45.42,0.494],[45.46,0.606],[45.50,0.675],[45.54,0.592],[45.57,0.522],[45.61,0.467],[45.65,0.522],[45.69,0.494],[45.73,0.411],[45.77,0.467],[45.80,0.508],[45.84,0.578],[45.88,0.494],[45.92,0.453],[45.96,0.397],[46.00,0.383],[46.03,0.369],[46.07,0.453],[46.11,0.578],[46.15,0.494],[46.19,0.508],[46.23,0.439],[46.26,0.453],[46.30,0.550],[46.34,0.494],[46.38,0.522],[46.42,0.467],[46.46,0.494],[46.49,0.439],[46.53,0.425],[46.57,0.467],[46.61,0.494],[46.65,0.578],[46.68,0.550],[46.72,0.633],[46.76,0.647],[46.80,0.578],[46.84,0.661],[46.88,0.578],[46.91,0.661],[46.95,0.689],[46.99,0.578],[47.03,0.481]
]

// splice tie-points and out-of-splice correlation points, plotted on the ln(Ba/Sr) scale
const tie865B = [[30.00,-0.779],[35.22,-0.779],[38.70,null],[42.22,-0.779],[45.75,-0.779]]
const tie865C = [[22.28,-0.833],[30.00,-0.833],[32.60,null],[35.20,-0.833],[42.25,-0.833],[44.00,null],[45.72,-0.833],[47.68,-0.833]]
const corr865B = [[28.43,-0.604],[29.00,-0.604],[30.00,-0.604],[35.20,-0.604],[36.31,-0.604],[39.84,-0.604],[40.32,-0.604],[41.22,-0.604],[41.75,-0.604],[42.25,-0.604],[45.72,-0.604],[46.82,-0.604]]
const corr865C = [[22.30,-0.658],[30.01,-0.658],[30.66,-0.658],[35.20,-0.658],[42.25,-0.658],[43.74,-0.658],[45.15,-0.658],[45.72,-0.658],[47.69,-0.658]]

const sectionNames = ['865C- 4H', '865B- 4H', '865C- 5H', '5H', '6H']
const sectionMid = [26.13, 32.79, 38.81, 44.46, 46.82]
const sectionHole = ['C', 'B', 'C', 'B', 'C']
const mecoSpan = [34.98, 36.88]

const blue = '#0000cc'
const red = '#e30000'
const lightBlue = '#2a7dff'
const darkRed = '#780000'
const fontFamily = '"Liberation Sans", Arial, Helvetica, sans-serif'

Chart.defaults.font.family = fontFamily
Chart.defaults.color = '#000'

const toXY = list => list.map(p => ({ x: p[0], y: p[1] }))

// text a little wider than the font, like the original figure
function wideText(ctx, text, x, y, align, rotation) {
    ctx.save()
    ctx.translate(x, y)
    if (rotation) ctx.rotate(rotation)
    ctx.scale(1.1, 1)
    ctx.textAlign = align || 'left'
    ctx.textBaseline = 'middle'
    ctx.fillText(text, 0, 0)
    ctx.restore()
}

function drawDiamond(ctx, cx, cy, r, fill) {
    ctx.beginPath()
    ctx.moveTo(cx, cy - r)
    ctx.lineTo(cx + r, cy)
    ctx.lineTo(cx, cy + r)
    ctx.lineTo(cx - r, cy)
    ctx.closePath()
    ctx.fillStyle = fill
    ctx.fill()
    ctx.lineWidth = 1
    ctx.strokeStyle = '#000'
    ctx.stroke()
}

const extras = {
    id: 'extras',
    afterDraw(chart) {
        const { ctx, chartArea: a, scales: { x, y, y2 } } = chart
        ctx.save()

        // minor ticks
        ctx.strokeStyle = '#000'
        ctx.lineWidth = 2
        ctx.beginPath()
        for (let d = 22; d <= 48; d++) {
            if (d % 5 === 0) continue
            const px = x.getPixelForValue(d)
            ctx.moveTo(px, a.bottom); ctx.lineTo(px, a.bottom + 7)
            ctx.moveTo(px, a.top); ctx.lineTo(px, a.top - 9)
        }
        for (let i = -9; i <= 20; i++) {
            if (i % 5 === 0) continue
            const py = y.getPixelForValue(i / 10)
            ctx.moveTo(a.left, py); ctx.lineTo(a.left - 8, py)
        }
        for (let i = -27; i <= -7; i++) {
            if (i % 4 === 0) continue
            const py = y2.getPixelForValue(i / 20)
            ctx.moveTo(a.right, py); ctx.lineTo(a.right + 8, py)
        }
        ctx.stroke()

        // axis titles
        ctx.fillStyle = '#000'
        ctx.font = '25px ' + fontFamily
        wideText(ctx, axisTitles[0], 695, 823, 'center')
        wideText(ctx, axisTitles[1], 22, 410, 'center', -Math.PI / 2)
        wideText(ctx, axisTitles[2], 1372, 421, 'center', Math.PI / 2)

        // MECO
        ctx.font = '24px ' + fontFamily
        wideText(ctx, 'MECO', x.getPixelForValue((mecoSpan[0] + mecoSpan[1]) / 2), y.getPixelForValue(1.496), 'center')
        ctx.beginPath()
        ctx.lineWidth = 2.5
        ctx.moveTo(x.getPixelForValue(mecoSpan[0]), y.getPixelForValue(1.425))
        ctx.lineTo(x.getPixelForValue(mecoSpan[1]), y.getPixelForValue(1.425))
        ctx.stroke()

        // core section labels above the splice lines
        ctx.font = '25px ' + fontFamily
        sectionNames.forEach((name, i) => {
            const isB = sectionHole[i] === 'B'
            const level = isB ? tie865B[0][1] : tie865C[0][1]
            ctx.fillStyle = isB ? blue : red
            wideText(ctx, name, x.getPixelForValue(sectionMid[i]), y.getPixelForValue(level) - 17, 'center')
        })

        // left legend: markers
        ctx.font = '24px ' + fontFamily
        const rowsL = [51, 77, 101, 126]
        const colorsL = [blue, blue, red, red]
        markerLabels.forEach((label, i) => {
            const cy = rowsL[i]
            if (i % 2 === 0) {
                ctx.strokeStyle = colorsL[i]
                ctx.lineWidth = 2
                ctx.beginPath()
                ctx.moveTo(135, cy); ctx.lineTo(145, cy)
                ctx.moveTo(140, cy - 5); ctx.lineTo(140, cy + 5)
                ctx.stroke()
            } else {
                drawDiamond(ctx, 140, cy, 5, colorsL[i])
            }
            ctx.fillStyle = colorsL[i]
            wideText(ctx, label, 197, cy, 'left')
        })

        // right legend: lines
        const rowsR = [51, 76, 100, 124]
        const colorsR = [blue, red, lightBlue, darkRed]
        seriesLabels.forEach((label, i) => {
            const cy = rowsR[i]
            ctx.strokeStyle = colorsR[i]
            ctx.lineWidth = 2.5
            ctx.beginPath()
            ctx.moveTo(988, cy); ctx.lineTo(1022, cy)
            ctx.stroke()
            ctx.fillStyle = colorsR[i]
            wideText(ctx, label, 1059, cy, 'left')
        })

        ctx.restore()
    }
}

const axisLine = { display: true, width: 2, color: '#000' }
const tickFont = { size: 25 }
// keep the plot frame where the figure has it: no extra label padding
const noPad = s => { s.paddingTop = 0; s.paddingBottom = 0; s.paddingLeft = 0; s.paddingRight = 0 }

const ctx = document.getElementById('myChart').getContext('2d')

const myChart = new Chart(ctx, {
    type: 'line',
    data: {
        datasets: [
            {
                label: markerLabels[0], data: toXY(tie865B), yAxisID: 'y',
                borderColor: blue, borderWidth: 2.5, pointStyle: 'cross', pointRadius: 6,
                pointBorderWidth: 2.5, pointBorderColor: blue, spanGaps: false
            },
            {
                label: markerLabels[2], data: toXY(tie865C), yAxisID: 'y',
                borderColor: red, borderWidth: 2.5, pointStyle: 'cross', pointRadius: 6,
                pointBorderWidth: 2.5, pointBorderColor: red, spanGaps: false
            },
            {
                label: markerLabels[1], data: toXY(corr865B), yAxisID: 'y', showLine: false,
                pointStyle: 'rectRot', pointRadius: 5.5, pointBackgroundColor: blue,
                pointBorderColor: '#000', pointBorderWidth: 1
            },
            {
                label: markerLabels[3], data: toXY(corr865C), yAxisID: 'y', showLine: false,
                pointStyle: 'rectRot', pointRadius: 5.5, pointBackgroundColor: red,
                pointBorderColor: '#000', pointBorderWidth: 1
            },
            {
                label: seriesLabels[1], data: toXY(srCa865C), yAxisID: 'y2',
                borderColor: red, borderWidth: 2.6, pointRadius: 0, spanGaps: false
            },
            {
                label: seriesLabels[0], data: toXY(baSr865C), yAxisID: 'y',
                borderColor: blue, borderWidth: 2.6, pointRadius: 0, spanGaps: false
            },
            {
                label: seriesLabels[3], data: toXY(srCa865B), yAxisID: 'y2',
                borderColor: darkRed, borderWidth: 2.6, pointRadius: 0, spanGaps: false
            },
            {
                label: seriesLabels[2], data: toXY(baSr865B), yAxisID: 'y',
                borderColor: lightBlue, borderWidth: 2.6, pointRadius: 0, spanGaps: false
            }
        ]
    },
    options: {
        responsive: false,
        animation: false,
        layout: { padding: 0 },
        plugins: {
            legend: { display: false },
            tooltip: { enabled: false }
        },
        scales: {
            x: {
                type: 'linear', position: 'bottom', min: 22, max: 48.07,
                afterFit: s => { s.height = 113; noPad(s) },
                afterBuildTicks: s => { s.ticks = depthTicks.map(v => ({ value: v })) },
                ticks: { font: tickFont, padding: 16, maxRotation: 0, callback: v => String(v) },
                grid: { drawOnChartArea: false, tickLength: 15, tickWidth: 2, tickColor: '#000' },
                border: axisLine
            },
            xTop: {
                type: 'linear', position: 'top', min: 22, max: 48.07,
                afterFit: s => { s.height = 22; noPad(s) },
                afterBuildTicks: s => { s.ticks = depthTicks.map(v => ({ value: v })) },
                ticks: { display: false },
                grid: { drawOnChartArea: false, tickLength: 19, tickWidth: 2, tickColor: '#000' },
                border: axisLine
            },
            y: {
                type: 'linear', position: 'left', min: -0.9167, max: 2.0417,
                afterFit: s => { s.width = 120; noPad(s) },
                afterBuildTicks: s => { s.ticks = baSrTicks.map(v => ({ value: v })) },
                ticks: { font: tickFont, padding: 14, callback: v => v === 0 ? '0' : v.toFixed(1) },
                grid: { drawOnChartArea: false, tickLength: 16, tickWidth: 2, tickColor: '#000' },
                border: axisLine
            },
            y2: {
                type: 'linear', position: 'right', reverse: true, min: -1.406, max: -0.3463,
                afterFit: s => { s.width = 151; noPad(s) },
                afterBuildTicks: s => { s.ticks = srCaTicks.map(v => ({ value: v })) },
                ticks: { font: tickFont, padding: 15, callback: v => v.toFixed(1) },
                grid: { drawOnChartArea: false, tickLength: 15, tickWidth: 2, tickColor: '#000' },
                border: axisLine
            }
        }
    },
    plugins: [extras]
})
</script>
</body>
</html>
